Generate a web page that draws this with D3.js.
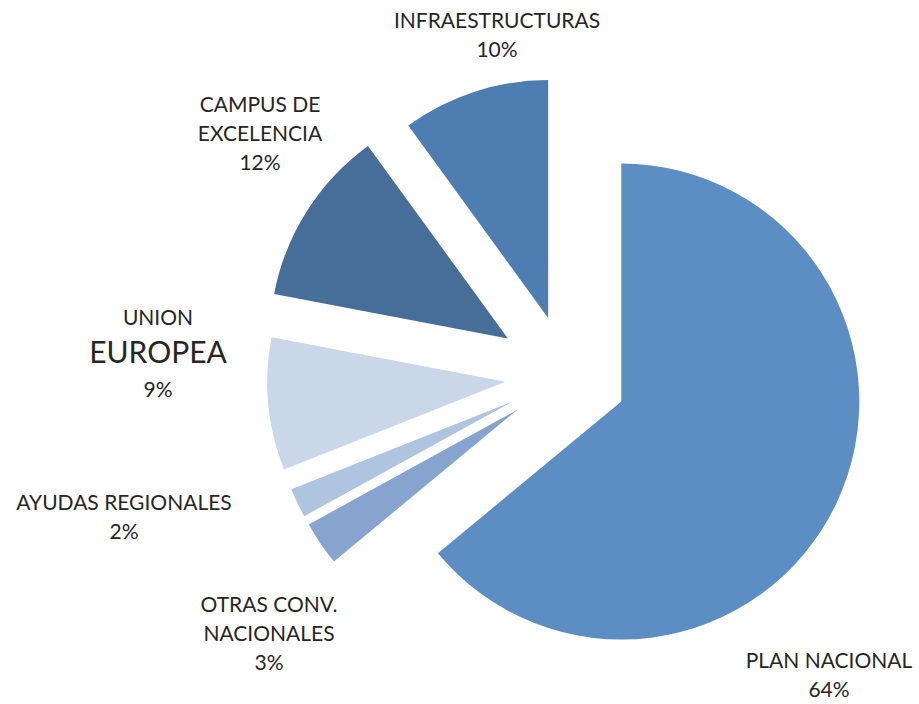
<!DOCTYPE html>
<html>
<head>
<meta charset="utf-8">
<script src="https://cdn.jsdelivr.net/npm/d3@7"></script>
<style>
  html, body { margin: 0; padding: 0; background: #ffffff; }
  svg { display: block; }
</style>
</head>
<body>
<svg id="chart" width="919" height="704"></svg>
<script>
// ---- data ----
const categories = ["PLAN NACIONAL", "OTRAS CONV. NACIONALES", "AYUDAS REGIONALES", "UNION EUROPEA", "CAMPUS DE EXCELENCIA", "INFRAESTRUCTURAS"];
const values = [64, 3, 2, 9, 12, 10];
const percentLabels = ["64%", "3%", "2%", "9%", "12%", "10%"];
const labelLines = [
  ["PLAN NACIONAL"],
  ["OTRAS CONV.", "NACIONALES"],
  ["AYUDAS REGIONALES"],
  ["UNION", "EUROPEA"],
  ["CAMPUS DE", "EXCELENCIA"],
  ["INFRAESTRUCTURAS"]
];

// ---- style / layout ----
const colors = ["#5c8dc3", "#87a4cf", "#afc4de", "#c9d7e8", "#476d99", "#4e7eb1"];
const explode = [60, 60, 60, 62, 70, 61];
const center = [567, 376];
const radius = 238;
// label block centers (x, first-line center y)
const labelPos = [[829, 659], [269, 603], [124, 501], [158, 316], [260, 103], [497, 19]];
const lineGap = 29;

const svg = d3.select("#chart");
const pie = d3.pie().sort(null).value(d => d)(values);
const arc = d3.arc().innerRadius(0).outerRadius(radius);

const g = svg.append("g").attr("transform", `translate(${center[0]},${center[1]})`);
g.selectAll("path")
  .data(pie)
  .join("path")
  .attr("d", arc)
  .attr("fill", (d, i) => colors[i])
  .attr("transform", (d, i) => {
    const a = (d.startAngle + d.endAngle) / 2;
    return `translate(${explode[i] * Math.sin(a)},${-explode[i] * Math.cos(a)})`;
  });

const font = "Lato, 'Open Sans', 'DejaVu Sans', sans-serif";
categories.forEach((c, i) => {
  const lines = labelLines[i].concat([percentLabels[i]]);
  const [x, y0] = labelPos[i];
  let y = y0;
  lines.forEach((t, k) => {
    const big = (t === "EUROPEA");
    if (big) y += 6;
    svg.append("text")
      .attr("x", x)
      .attr("y", y)
      .attr("text-anchor", "middle")
      .attr("dominant-baseline", "central")
      .attr("font-family", font)
      .attr("font-size", big ? 30 : 21)
      .attr("fill", "#262626")
      .text(t);
    y += big ? lineGap + 8 : lineGap;
  });
});
</script>
</body>
</html>
